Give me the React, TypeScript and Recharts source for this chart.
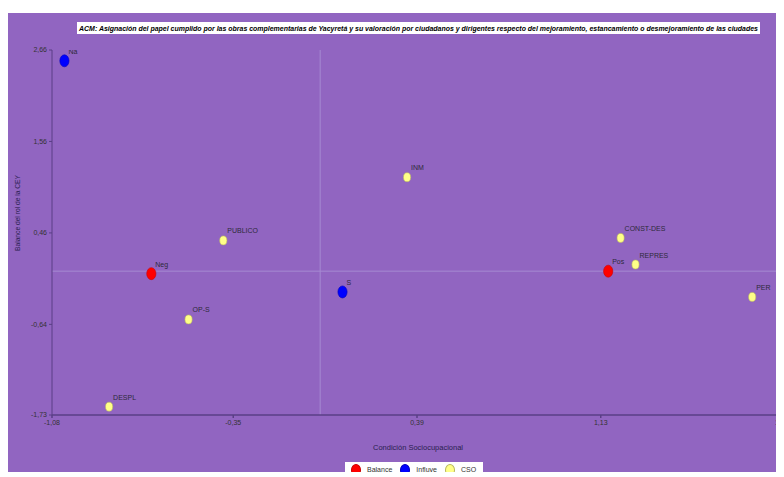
import { ReferenceLine, Scatter, ScatterChart, XAxis, YAxis } from 'recharts';

const balanceLabels = ['Neg', 'Pos'];
const balanceX = [-0.68, 1.16];
const balanceY = [-0.03, 0.0];

const influyeLabels = ['Na', 'S'];
const influyeX = [-1.03, 0.09];
const influyeY = [2.53, -0.25];

const csoLabels = ['INM', 'PUBLICO', 'OP-S', 'DESPL', 'CONST-DES', 'REPRES', 'PER'];
const csoX = [0.35, -0.39, -0.53, -0.85, 1.21, 1.27, 1.74];
const csoY = [1.13, 0.37, -0.58, -1.63, 0.4, 0.08, -0.31];

const xTicks = [-1.08, -0.35, 0.39, 1.13, 1.86];
const yTicks = [-1.73, -0.64, 0.46, 1.56, 2.66];

const title =
  'ACM: Asignación del papel cumplido por las obras complementarias de Yacyretá y su valoración por ciudadanos y dirigentes respecto del mejoramiento, estancamiento o desmejoramiento de las ciudades';

const PURPLE = '#9165c1';
const AXIS = '#5a3f86';
const FONT = '"Liberation Sans", Arial, sans-serif';

// page is exactly the window size, keep scrollbars out of the picture
if (typeof document !== 'undefined') {
  document.documentElement.style.overflow = 'hidden';
  document.body.style.overflow = 'hidden';
}

const toRows = (labels: string[], xs: number[], ys: number[]) =>
  labels.map((label, i) => ({ label, x: xs[i], y: ys[i] }));

const fmt = (v: number) => v.toFixed(2).replace('.', ',');

function dot(fill: string, stroke: string, rx: number, ry: number) {
  return (props: any) => {
    const { cx, cy, payload } = props;
    return (
      <g>
        <ellipse cx={cx} cy={cy} rx={rx} ry={ry} fill={fill} stroke={stroke} strokeWidth={0.6} />
        <text x={cx + 4} y={cy - 7} fontSize={7} fill="#2e2a3a" fontFamily={FONT}>
          {payload.label}
        </text>
      </g>
    );
  };
}

const legendItems = [
  { name: 'Balance', color: '#ff0000', stroke: '#cc0000' },
  { name: 'Influye', color: '#0000ff', stroke: '#0000bb' },
  { name: 'CSO', color: '#ffff88', stroke: '#b8b860' },
];

export default function App() {
  return (
    <div style={{ position: 'relative', top: 5, width: 776, height: 464, overflow: 'hidden', background: PURPLE }}>
      <ScatterChart width={780} height={464} margin={{ top: 37, right: 6, bottom: 42, left: 0 }}>
        <XAxis
          type="number"
          dataKey="x"
          domain={[-1.08, 1.86]}
          ticks={xTicks}
          tickFormatter={fmt}
          allowDataOverflow
          height={20}
          stroke={AXIS}
          strokeWidth={1.5}
          tickSize={3}
          tick={{ fontSize: 7, fill: '#333', fontFamily: FONT }}
        />
        <YAxis
          type="number"
          dataKey="y"
          domain={[-1.73, 2.66]}
          ticks={yTicks}
          tickFormatter={fmt}
          allowDataOverflow
          width={44}
          stroke={AXIS}
          tickSize={3}
          tick={{ fontSize: 7, fill: '#333', fontFamily: FONT }}
        />
        <ReferenceLine x={0} stroke="#a68ad2" strokeWidth={1} />
        <ReferenceLine y={0} stroke="#a68ad2" strokeWidth={1} />
        <Scatter
          name="CSO"
          data={toRows(csoLabels, csoX, csoY)}
          shape={dot('#ffff88', '#b8b860', 3.6, 4.5)}
          isAnimationActive={false}
        />
        <Scatter
          name="Balance"
          data={toRows(balanceLabels, balanceX, balanceY)}
          shape={dot('#ff0000', '#cc0000', 4.6, 6)}
          isAnimationActive={false}
        />
        <Scatter
          name="Influye"
          data={toRows(influyeLabels, influyeX, influyeY)}
          shape={dot('#0000ff', '#0000bb', 4.6, 6)}
          isAnimationActive={false}
        />
      </ScatterChart>

      <svg width={776} height={464} style={{ position: 'absolute', left: 0, top: 0, pointerEvents: 'none' }}>
        <rect x={69} y={9} width={683} height={12} fill="#ffffff" />
        <text
          x={71}
          y={18}
          fontSize={8}
          fontWeight="bold"
          fontStyle="italic"
          fill="#000"
          fontFamily={FONT}
          textLength={679}
          lengthAdjust="spacingAndGlyphs"
        >
          {title}
        </text>
        <text
          x={410}
          y={437}
          fontSize={8}
          fill="#2a2050"
          fontFamily={FONT}
          textAnchor="middle"
          textLength={90}
          lengthAdjust="spacingAndGlyphs"
        >
          Condición Sociocupacional
        </text>
        <text
          transform="translate(12,200) rotate(-90)"
          fontSize={8}
          fill="#2a2050"
          fontFamily={FONT}
          textAnchor="middle"
          textLength={76}
          lengthAdjust="spacingAndGlyphs"
        >
          Balance del rol de la CEY
        </text>
      </svg>

      <div
        style={{
          position: 'absolute',
          left: 337,
          top: 449,
          width: 138,
          height: 15,
          background: '#fff',
          display: 'flex',
          alignItems: 'center',
          fontFamily: FONT,
          fontSize: 7,
          color: '#333',
          paddingLeft: 6,
          boxSizing: 'border-box',
        }}
      >
        {legendItems.map((it) => (
          <span key={it.name} style={{ display: 'flex', alignItems: 'center', marginRight: 8 }}>
            <span
              style={{
                display: 'inline-block',
                width: 8,
                height: 10,
                borderRadius: '50%',
                background: it.color,
                border: `0.6px solid ${it.stroke}`,
                marginRight: 6,
              }}
            />
            {it.name}
          </span>
        ))}
      </div>
    </div>
  );
}
